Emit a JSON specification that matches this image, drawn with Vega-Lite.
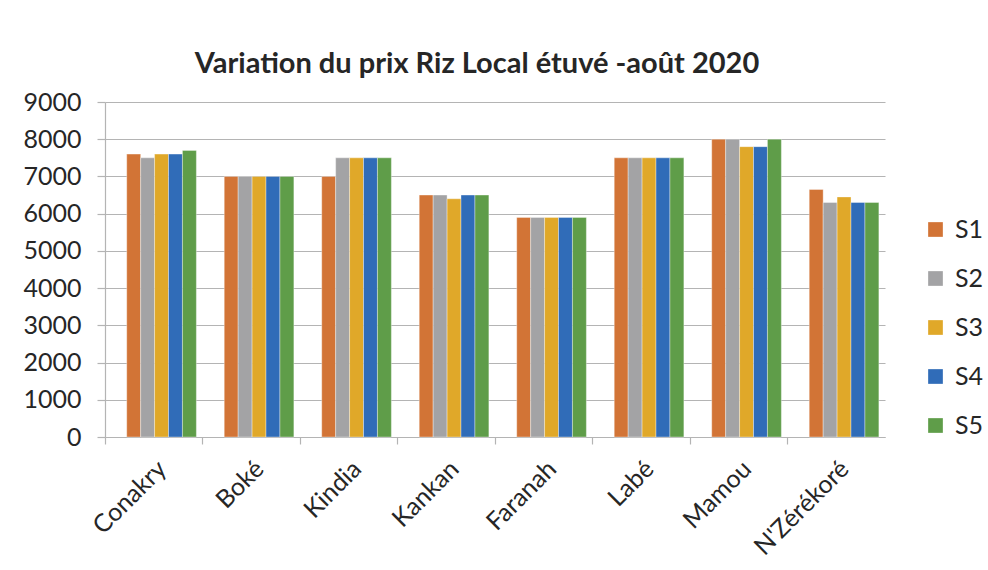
{
  "$schema": "https://vega.github.io/schema/vega-lite/v6.json",
  "autosize": {"type": "none"},
  "width": 780,
  "height": 335,
  "padding": {"left": 105, "top": 102, "right": 103, "bottom": 133},
  "background": "white",
  "title": {
    "text": "Variation du prix Riz Local étuvé -août 2020",
    "font": "Lato",
    "fontSize": 29,
    "fontWeight": "bold",
    "color": "#262626",
    "anchor": "middle",
    "frame": "group",
    "baseline": "alphabetic",
    "offset": 29,
    "dx": -18,
    "dy": 41
  },
  "data": {
    "values": [
      {"ville": "Conakry", "s": "S1", "prix": 7600},
      {"ville": "Conakry", "s": "S2", "prix": 7500},
      {"ville": "Conakry", "s": "S3", "prix": 7600},
      {"ville": "Conakry", "s": "S4", "prix": 7600},
      {"ville": "Conakry", "s": "S5", "prix": 7700},
      {"ville": "Boké", "s": "S1", "prix": 7000},
      {"ville": "Boké", "s": "S2", "prix": 7000},
      {"ville": "Boké", "s": "S3", "prix": 7000},
      {"ville": "Boké", "s": "S4", "prix": 7000},
      {"ville": "Boké", "s": "S5", "prix": 7000},
      {"ville": "Kindia", "s": "S1", "prix": 7000},
      {"ville": "Kindia", "s": "S2", "prix": 7500},
      {"ville": "Kindia", "s": "S3", "prix": 7500},
      {"ville": "Kindia", "s": "S4", "prix": 7500},
      {"ville": "Kindia", "s": "S5", "prix": 7500},
      {"ville": "Kankan", "s": "S1", "prix": 6500},
      {"ville": "Kankan", "s": "S2", "prix": 6500},
      {"ville": "Kankan", "s": "S3", "prix": 6400},
      {"ville": "Kankan", "s": "S4", "prix": 6500},
      {"ville": "Kankan", "s": "S5", "prix": 6500},
      {"ville": "Faranah", "s": "S1", "prix": 5900},
      {"ville": "Faranah", "s": "S2", "prix": 5900},
      {"ville": "Faranah", "s": "S3", "prix": 5900},
      {"ville": "Faranah", "s": "S4", "prix": 5900},
      {"ville": "Faranah", "s": "S5", "prix": 5900},
      {"ville": "Labé", "s": "S1", "prix": 7500},
      {"ville": "Labé", "s": "S2", "prix": 7500},
      {"ville": "Labé", "s": "S3", "prix": 7500},
      {"ville": "Labé", "s": "S4", "prix": 7500},
      {"ville": "Labé", "s": "S5", "prix": 7500},
      {"ville": "Mamou", "s": "S1", "prix": 8000},
      {"ville": "Mamou", "s": "S2", "prix": 8000},
      {"ville": "Mamou", "s": "S3", "prix": 7800},
      {"ville": "Mamou", "s": "S4", "prix": 7800},
      {"ville": "Mamou", "s": "S5", "prix": 8000},
      {"ville": "N'Zérékoré", "s": "S1", "prix": 6650},
      {"ville": "N'Zérékoré", "s": "S2", "prix": 6300},
      {"ville": "N'Zérékoré", "s": "S3", "prix": 6450},
      {"ville": "N'Zérékoré", "s": "S4", "prix": 6300},
      {"ville": "N'Zérékoré", "s": "S5", "prix": 6300}
    ]
  },
  "mark": {"type": "bar", "stroke": "white", "strokeWidth": 0.6, "strokeOpacity": 0.6},
  "encoding": {
    "x": {
      "field": "ville",
      "type": "nominal",
      "sort": null,
      "title": null,
      "scale": {"paddingInner": 0, "paddingOuter": 0},
      "axis": {
        "bandPosition": 0,
        "labelAngle": -45,
        "labelFont": "Lato",
        "labelFontSize": 25,
        "labelColor": "#262626",
        "labelPadding": 12,
        "labelDx": -4,
        "labelBound": false,
        "labelOverlap": false,
        "domainColor": "#b4b4b4",
        "tickColor": "#b4b4b4",
        "tickSize": 7,
        "grid": false
      }
    },
    "xOffset": {
      "field": "s",
      "type": "nominal",
      "scale": {"paddingInner": 0, "paddingOuter": 1.275, "align": 0.78}
    },
    "y": {
      "field": "prix",
      "type": "quantitative",
      "title": null,
      "scale": {"domain": [0, 9000], "nice": false},
      "axis": {
        "values": [0, 1000, 2000, 3000, 4000, 5000, 6000, 7000, 8000, 9000],
        "format": "d",
        "labelFont": "Lato",
        "labelFontSize": 25,
        "labelColor": "#262626",
        "labelPadding": 16,
        "tickSize": 8,
        "tickColor": "#b4b4b4",
        "domainColor": "#b4b4b4",
        "gridColor": "#b4b4b4",
        "gridWidth": 1.2
      }
    },
    "color": {
      "field": "s",
      "type": "nominal",
      "scale": {
        "domain": ["S1", "S2", "S3", "S4", "S5"],
        "range": ["#D27436", "#A3A3A5", "#E0A829", "#306CB8", "#5F9D49"]
      },
      "legend": {
        "title": null,
        "orient": "none",
        "legendX": 818,
        "legendY": 115,
        "symbolType": "square",
        "symbolSize": 216,
        "symbolStrokeWidth": 0,
        "labelFont": "Lato",
        "labelFontSize": 25,
        "labelColor": "#262626",
        "labelOffset": 7,
        "rowPadding": 23
      }
    }
  },
  "config": {
    "view": {"stroke": null},
    "axis": {"domainWidth": 1.2, "tickWidth": 1.2}
  }
}
